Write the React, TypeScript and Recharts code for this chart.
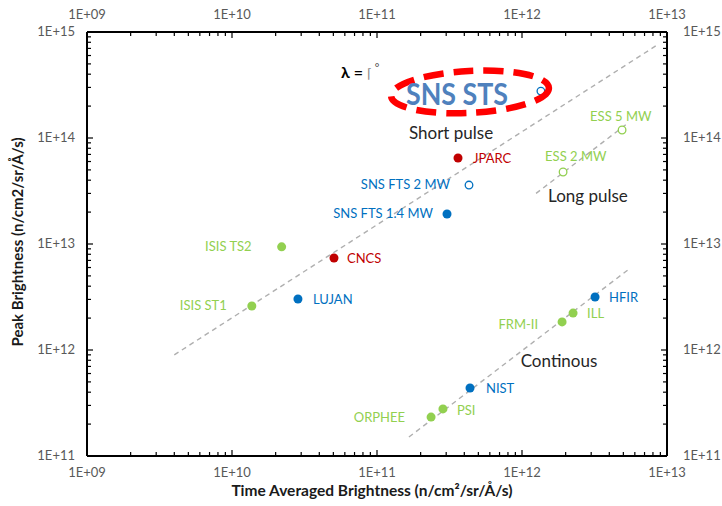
import { ScatterChart, Scatter, XAxis, YAxis, ReferenceLine, ReferenceDot } from "recharts";

// major decades and minor steps for the log axes
const xMajor = [1e9, 1e10, 1e11, 1e12, 1e13];
const yMajor = [1e11, 1e12, 1e13, 1e14, 1e15];
const minorSteps = [2, 3, 4, 5, 6, 7, 8, 9];

const greenFilled = [
  { name: "ISIS TS2", x: 2.2e10, y: 9.4e12 },
  { name: "ISIS ST1", x: 1.37e10, y: 2.6e12 },
  { name: "FRM-II", x: 1.89e12, y: 1.84e12 },
  { name: "ILL", x: 2.25e12, y: 2.23e12 },
  { name: "PSI", x: 2.85e11, y: 2.78e11 },
  { name: "ORPHEE", x: 2.36e11, y: 2.33e11 },
];
const greenOpen = [
  { name: "ESS 5 MW", x: 4.9e12, y: 1.19e14 },
  { name: "ESS 2 MW", x: 1.92e12, y: 4.78e13 },
];
const blueFilled = [
  { name: "SNS FTS 1.4 MW", x: 3.04e11, y: 1.92e13 },
  { name: "LUJAN", x: 2.85e10, y: 3.03e12 },
  { name: "HFIR", x: 3.19e12, y: 3.16e12 },
  { name: "NIST", x: 4.38e11, y: 4.38e11 },
];
const blueOpen = [
  { name: "SNS STS", x: 1.35e12, y: 2.77e14 },
  { name: "SNS FTS 2 MW", x: 4.31e11, y: 3.6e13 },
];
const redFilled = [
  { name: "JPARC", x: 3.62e11, y: 6.48e13 },
  { name: "CNCS", x: 5.05e10, y: 7.38e12 },
];

const shortPulseTrend = [{ x: 4e9, y: 9e11 }, { x: 8.5e12, y: 7.5e14 }];
const longPulseTrend = [{ x: 1.25e12, y: 3.0e13 }, { x: 5.4e12, y: 1.39e14 }];
const continuousTrend = [{ x: 1.66e11, y: 1.51e11 }, { x: 5.47e12, y: 5.8e12 }];

// label placement relative to each marker: [dx, dy, anchor]
const labelPlacement: Record<string, [number, number, string]> = {
  "ISIS TS2": [-30, 4, "end"],
  "ISIS ST1": [-25, 4, "end"],
  "FRM-II": [-24, 7, "end"],
  ILL: [14, 5, "start"],
  PSI: [14, 6, "start"],
  ORPHEE: [-26, 5, "end"],
  "ESS 5 MW": [-32, -9, "start"],
  "ESS 2 MW": [-18, -11, "start"],
  "SNS FTS 1.4 MW": [-14, 4, "end"],
  LUJAN: [15, 5, "start"],
  HFIR: [14, 5, "start"],
  NIST: [16, 5, "start"],
  "SNS FTS 2 MW": [-19, 4, "end"],
  JPARC: [15, 5, "start"],
  CNCS: [13, 5, "start"],
};

const GREEN = "#92D050";
const BLUE = "#0070C0";
const RED = "#C00000";
const FONT = "Lato, 'Open Sans', sans-serif";

const withMinors = (majors: number[]) => {
  const out: number[] = [];
  majors.forEach((m, i) => {
    out.push(m);
    if (i < majors.length - 1) minorSteps.forEach((s) => out.push(m * s));
  });
  return out;
};

const isMajor = (v: number) => Math.abs(Math.log10(v) - Math.round(Math.log10(v))) < 1e-6;
const fmt = (v: number) => {
  const e = Math.round(Math.log10(v));
  return "1E+" + (e < 10 ? "0" + e : String(e));
};

function makeTick(side: "top" | "bottom" | "left" | "right") {
  return (props: any) => {
    const { x, y, payload } = props;
    const v = payload.value;
    const major = isMajor(v);
    const len = major ? 6 : 4;
    let line;
    let label = null;
    const textProps = { fill: "#595959", fontSize: 13, fontFamily: FONT };
    if (side === "bottom") {
      line = <line x1={x} y1={y} x2={x} y2={y - len} stroke="#000" strokeWidth={1.2} />;
      if (major) label = <text x={x} y={y + 21} textAnchor="middle" {...textProps}>{fmt(v)}</text>;
    } else if (side === "top") {
      line = <line x1={x} y1={y} x2={x} y2={y + len} stroke="#000" strokeWidth={1.2} />;
      if (major) label = <text x={x} y={y - 13} textAnchor="middle" {...textProps}>{fmt(v)}</text>;
    } else if (side === "left") {
      line = <line x1={x} y1={y} x2={x + len} y2={y} stroke="#000" strokeWidth={1.2} />;
      if (major) label = <text x={x - 12} y={y + 4} textAnchor="end" {...textProps}>{fmt(v)}</text>;
    } else {
      line = <line x1={x} y1={y} x2={x - len} y2={y} stroke="#000" strokeWidth={1.2} />;
      if (major) label = <text x={x + 16} y={y + 4} textAnchor="start" {...textProps}>{fmt(v)}</text>;
    }
    return (
      <g>
        {line}
        {label}
      </g>
    );
  };
}

function makePoint(color: string, open: boolean) {
  return (props: any) => {
    const { cx, cy, payload } = props;
    const place = labelPlacement[payload.name];
    return (
      <g>
        <circle
          cx={cx}
          cy={cy}
          r={open ? 3.8 : 4.5}
          fill={open ? "#fff" : color}
          stroke={color}
          strokeWidth={open ? 1.3 : 0}
        />
        {place && (
          <text
            x={cx + place[0]}
            y={cy + place[1]}
            textAnchor={place[2] as any}
            fill={color}
            fontSize={13}
            fontFamily={FONT}
          >
            {payload.name}
          </text>
        )}
      </g>
    );
  };
}

const noteText = (text: string) => (p: any) => (
  <text x={p.cx} y={p.cy + 6} textAnchor="middle" fill="#262626" fontSize={17} fontFamily={FONT}>
    {text}
  </text>
);

const axisLine = { stroke: "#000", strokeWidth: 2 };

export default function App() {
  const xTicks = withMinors(xMajor);
  const yTicks = withMinors(yMajor);
  return (
    <div style={{ position: "absolute", left: 0, top: 0, width: 722, height: 506, background: "#fff" }}>
      <ScatterChart width={722} height={506} margin={{ top: 0, right: 0, bottom: 0, left: 0 }}>
        <XAxis
          xAxisId="bottom"
          dataKey="x"
          type="number"
          scale="log"
          domain={[1e9, 1e13]}
          allowDataOverflow
          orientation="bottom"
          height={50}
          ticks={xTicks}
          interval={0}
          tickSize={0}
          tickMargin={0}
          tickLine={false}
          axisLine={axisLine}
          tick={makeTick("bottom")}
        />
        <XAxis
          xAxisId="top"
          dataKey="x"
          type="number"
          scale="log"
          domain={[1e9, 1e13]}
          allowDataOverflow
          orientation="top"
          height={32}
          ticks={xTicks}
          interval={0}
          tickSize={0}
          tickMargin={0}
          tickLine={false}
          axisLine={axisLine}
          tick={makeTick("top")}
        />
        <YAxis
          yAxisId="left"
          dataKey="y"
          type="number"
          scale="log"
          domain={[1e11, 1e15]}
          allowDataOverflow
          orientation="left"
          width={87}
          ticks={yTicks}
          interval={0}
          tickSize={0}
          tickMargin={0}
          tickLine={false}
          axisLine={axisLine}
          tick={makeTick("left")}
        />
        <YAxis
          yAxisId="right"
          dataKey="y"
          type="number"
          scale="log"
          domain={[1e11, 1e15]}
          allowDataOverflow
          orientation="right"
          width={55}
          ticks={yTicks}
          interval={0}
          tickSize={0}
          tickMargin={0}
          tickLine={false}
          axisLine={axisLine}
          tick={makeTick("right")}
        />

        {[shortPulseTrend, longPulseTrend, continuousTrend].map((seg, i) => (
          <ReferenceLine
            key={i}
            xAxisId="bottom"
            yAxisId="left"
            segment={seg}
            stroke="#AFAFAF"
            strokeWidth={1.4}
            strokeDasharray="5 4"
          />
        ))}

        <Scatter xAxisId="top" yAxisId="right" data={greenFilled} shape={() => <g />} isAnimationActive={false} />
        <Scatter xAxisId="bottom" yAxisId="left" data={greenFilled} shape={makePoint(GREEN, false)} isAnimationActive={false} />
        <Scatter xAxisId="bottom" yAxisId="left" data={greenOpen} shape={makePoint(GREEN, true)} isAnimationActive={false} />
        <Scatter xAxisId="bottom" yAxisId="left" data={blueFilled} shape={makePoint(BLUE, false)} isAnimationActive={false} />
        <Scatter xAxisId="bottom" yAxisId="left" data={blueOpen} shape={makePoint(BLUE, true)} isAnimationActive={false} />
        <Scatter xAxisId="bottom" yAxisId="left" data={redFilled} shape={makePoint(RED, false)} isAnimationActive={false} />

        <ReferenceDot
          xAxisId="bottom"
          yAxisId="left"
          x={4.38e11}
          y={2.72e14}
          r={0}
          shape={(p: any) => (
            <ellipse
              cx={p.cx}
              cy={p.cy}
              rx={79}
              ry={21}
              fill="none"
              stroke="#FF0000"
              strokeWidth={6.5}
              strokeDasharray="20 10"
              transform={`rotate(-3 ${p.cx} ${p.cy})`}
            />
          )}
        />
        <ReferenceDot
          xAxisId="bottom"
          yAxisId="left"
          x={3.56e11}
          y={2.6e14}
          r={0}
          shape={(p: any) => (
            <text
              x={p.cx - 51}
              y={p.cy + 11}
              textLength={102}
              lengthAdjust="spacingAndGlyphs"
              fill="#4F81BD"
              fontSize={30}
              fontWeight="bold"
              fontFamily={FONT}
            >
              SNS STS
            </text>
          )}
        />
        <ReferenceDot
          xAxisId="bottom"
          yAxisId="left"
          x={5.65e10}
          y={4.2e14}
          r={0}
          shape={(p: any) => (
            <text x={p.cx} y={p.cy + 6} fill="#000" fontSize={16} fontFamily={FONT} fontWeight="bold">
              λ = <tspan fontWeight="normal" fill="#888" fontSize={13}>⌈</tspan>
              <tspan fontWeight="normal" fill="#444" fontSize={11} dy={-6}> °</tspan>
            </text>
          )}
        />
        <ReferenceDot xAxisId="bottom" yAxisId="left" x={3.24e11} y={1.11e14} r={0} shape={noteText("Short pulse")} />
        <ReferenceDot xAxisId="bottom" yAxisId="left" x={2.85e12} y={2.84e13} r={0} shape={noteText("Long pulse")} />
        <ReferenceDot xAxisId="bottom" yAxisId="left" x={1.8e12} y={7.87e11} r={0} shape={noteText("Continous")} />
      </ScatterChart>

      <div
        style={{
          position: "absolute",
          left: 0,
          top: 481,
          width: 744,
          textAlign: "center",
          fontFamily: FONT,
          fontWeight: "bold",
          fontSize: 15.5,
          color: "#1a1a1a",
        }}
      >
        Time Averaged Brightness (n/cm²/sr/Å/s)
      </div>
      <div
        style={{
          position: "absolute",
          left: 17,
          top: 242,
          transform: "translate(-50%, -50%) rotate(-90deg)",
          whiteSpace: "nowrap",
          fontFamily: FONT,
          fontWeight: "bold",
          fontSize: 15,
          color: "#1a1a1a",
        }}
      >
        Peak Brightness (n/cm2/sr/Å/s)
      </div>
    </div>
  );
}
